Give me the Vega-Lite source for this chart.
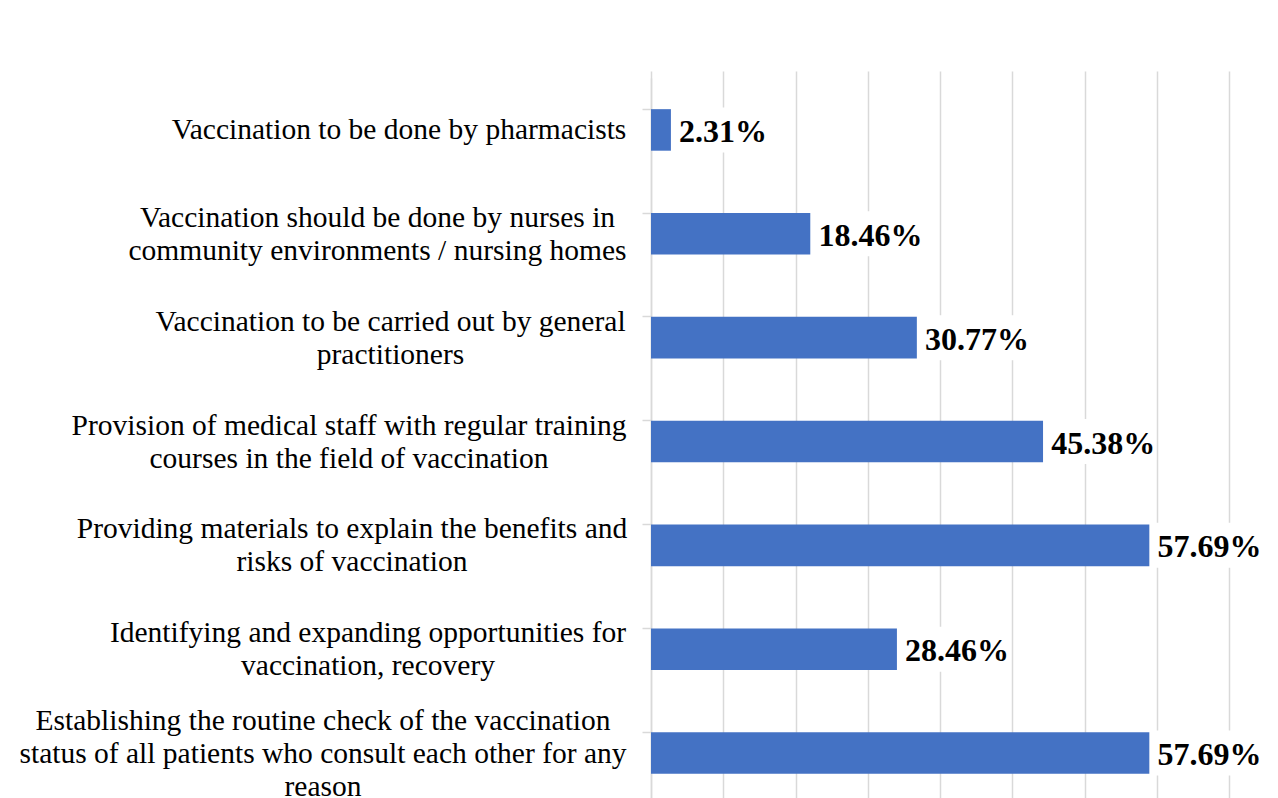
{
  "$schema": "https://vega.github.io/schema/vega-lite/v6.json",
  "autosize": {"type": "none"},
  "width": 578,
  "height": 720,
  "padding": {"left": 651, "top": 78, "right": 49, "bottom": 0},
  "background": "white",
  "config": {"view": {"stroke": null}, "font": "Liberation Serif"},
  "data": {
    "values": [
      {"cat": "Vaccination to be done by pharmacists", "value": 0.0231},
      {"cat": "Vaccination should be done by nurses in|community environments / nursing homes", "value": 0.1846},
      {"cat": "Vaccination to be carried out by general|practitioners", "value": 0.3077},
      {"cat": "Provision of medical staff with regular training|courses in the field of vaccination", "value": 0.4538},
      {"cat": "Providing materials to explain the benefits and|risks of vaccination", "value": 0.5769},
      {"cat": "Identifying and expanding opportunities for|vaccination, recovery", "value": 0.2846},
      {"cat": "Establishing the routine check of the vaccination|status of all patients who consult each other for any|reason", "value": 0.5769}
    ]
  },
  "encoding": {
    "y": {
      "field": "cat",
      "type": "nominal",
      "sort": null,
      "scale": {"range": [0, 727], "paddingInner": 0.6, "paddingOuter": 0.3},
      "axis": {
        "title": null,
        "labelExpr": "split(datum.label, '|')",
        "labelFont": "Liberation Serif",
        "labelFontSize": 29.5,
        "labelLineHeight": 33,
        "labelColor": "black",
        "labelLimit": 0,
        "labelAlign": "center",
        "labelBaseline": "middle",
        "labelPadding": {
          "condition": [
            {"test": "indexof(datum.value, 'pharmacists') >= 0", "value": 243.5},
            {"test": "indexof(datum.value, 'nurses') >= 0", "value": 265},
            {"test": "indexof(datum.value, 'general') >= 0", "value": 252},
            {"test": "indexof(datum.value, 'Provision') >= 0", "value": 293.5},
            {"test": "indexof(datum.value, 'Providing') >= 0", "value": 290.5},
            {"test": "indexof(datum.value, 'Identifying') >= 0", "value": 274.5}
          ],
          "value": 319.5
        },
        "labelOffset": {
          "condition": [
            {"test": "indexof(datum.value, 'pharmacists') >= 0", "value": 0},
            {"test": "indexof(datum.value, 'Establishing') >= 0", "value": -32}
          ],
          "value": -16
        },
        "bandPosition": 0,
        "tickSize": 9,
        "tickColor": "#d9d9d9",
        "tickWidth": 1.5,
        "domain": true,
        "domainColor": "#d9d9d9",
        "domainWidth": 1.5,
        "grid": false
      }
    }
  },
  "layer": [
    {
      "mark": {"type": "bar", "color": "#4472C4"},
      "encoding": {
        "x": {
          "field": "value",
          "type": "quantitative",
          "scale": {"domain": [0, 0.6688], "nice": false, "zero": true},
          "axis": {
            "title": null,
            "labels": false,
            "ticks": false,
            "domain": false,
            "grid": true,
            "gridColor": "#d9d9d9",
            "gridWidth": 1.5,
            "values": [0, 0.0836, 0.1672, 0.2508, 0.3344, 0.418, 0.5016, 0.5852, 0.6688]
          }
        }
      }
    },
    {
      "mark": {"type": "point", "shape": "M0,-1H5V1H0Z", "size": 2025, "filled": true, "fill": "white", "opacity": 1, "strokeWidth": 0},
      "encoding": {"x": {"field": "value", "type": "quantitative"}}
    },
    {
      "mark": {"type": "text", "align": "left", "baseline": "middle", "dx": 8, "dy": 2, "fontSize": 32, "fontWeight": "bold", "font": "Liberation Serif", "color": "black"},
      "encoding": {
        "x": {"field": "value", "type": "quantitative"},
        "text": {"field": "value", "type": "quantitative", "format": ".2%"}
      }
    }
  ]
}
